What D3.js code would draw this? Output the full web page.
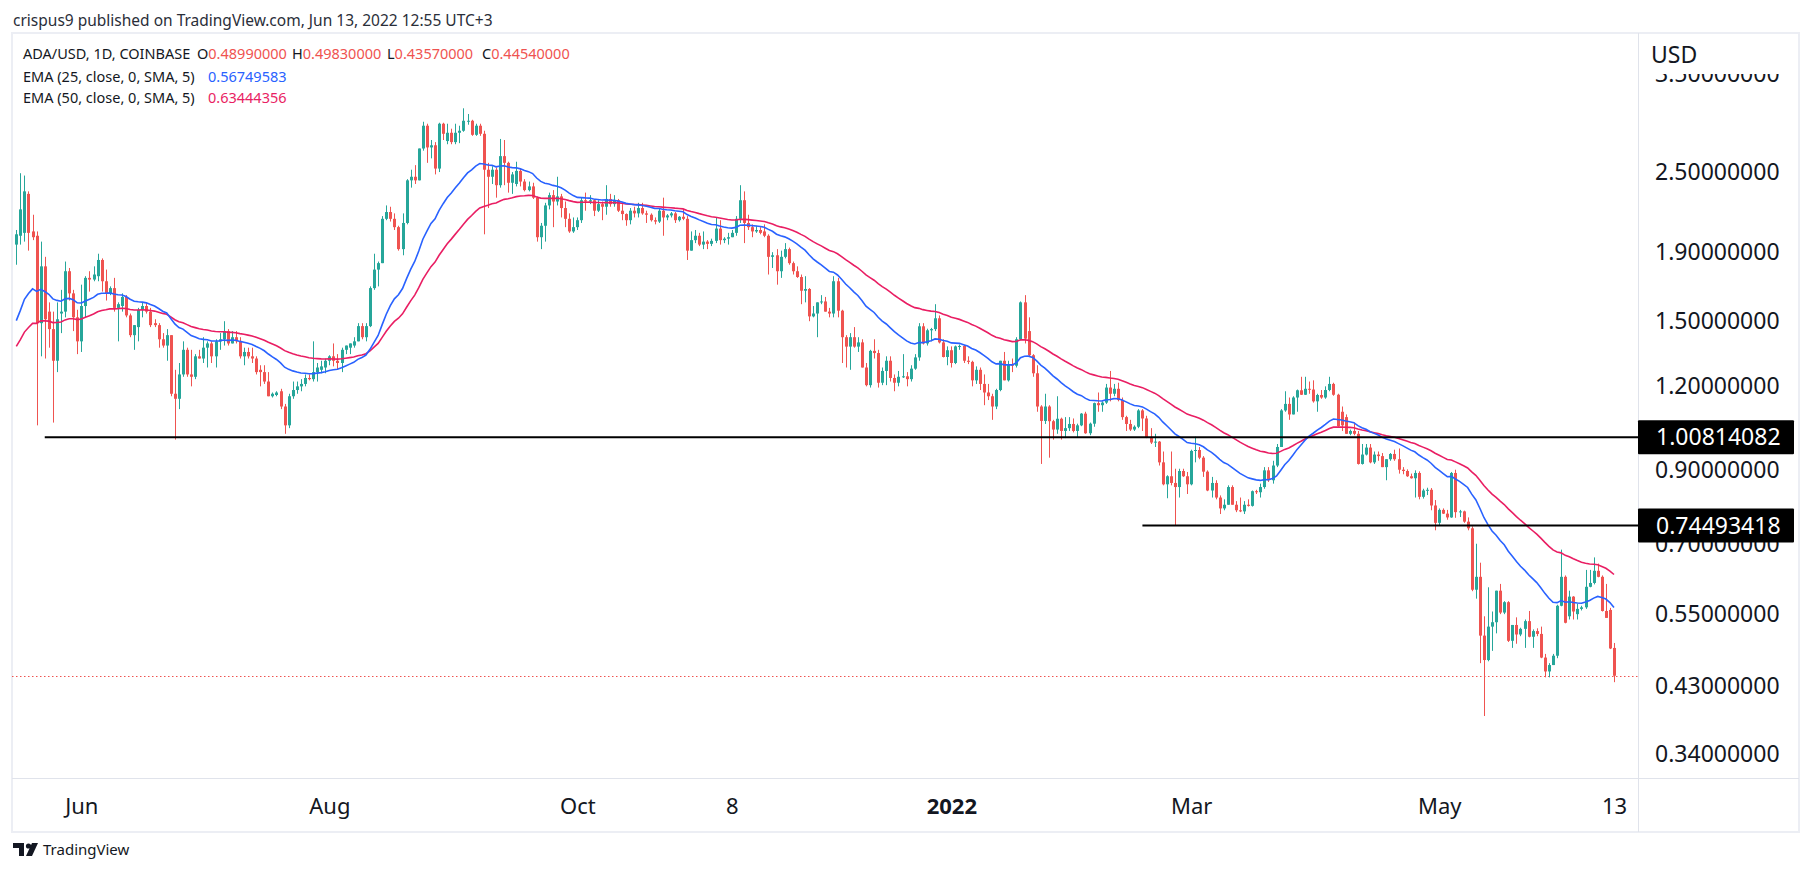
<!DOCTYPE html>
<html>
<head>
<meta charset="utf-8">
<script src="https://cdn.jsdelivr.net/npm/d3@7"></script>
<style>
  body { margin: 0; background: #fff; }
  svg { display: block; font-family: "Noto Sans", sans-serif; }
</style>
</head>
<body>
<script>
// ADA/USD daily candles, [open, high, low, close], starting 16 May 2021
const mayJul2021 = [
  [1.95,2.05,1.82,2.02],[2.01,2.49,1.95,2.20],[2.03,2.47,1.97,2.34],[2.32,2.34,1.91,2.03],[2.04,2.16,1.98,2.00],
  [2.01,2.04,1.05,1.49],[1.49,1.97,1.33,1.81],[1.81,1.87,1.32,1.51],[1.55,1.60,1.37,1.46],[1.46,1.55,1.06,1.31],
  [1.31,1.60,1.26,1.51],[1.54,1.67,1.44,1.55],[1.55,1.84,1.52,1.78],[1.78,1.80,1.61,1.65],[1.65,1.67,1.45,1.52],
  [1.52,1.56,1.34,1.40],[1.40,1.70,1.35,1.58],[1.58,1.75,1.52,1.74],[1.74,1.78,1.66,1.73],[1.73,1.81,1.72,1.76],
  [1.75,1.89,1.72,1.85],[1.85,1.86,1.66,1.72],[1.72,1.79,1.61,1.65],[1.65,1.69,1.64,1.68],[1.68,1.74,1.55,1.57],
  [1.57,1.60,1.40,1.59],[1.58,1.65,1.55,1.63],[1.63,1.64,1.52,1.53],[1.53,1.54,1.42,1.43],[1.43,1.48,1.36,1.48],
  [1.47,1.57,1.40,1.56],[1.56,1.60,1.52,1.58],[1.58,1.60,1.54,1.55],[1.55,1.57,1.47,1.48],[1.49,1.51,1.47,1.48],
  [1.48,1.49,1.37,1.41],[1.41,1.44,1.37,1.38],[1.38,1.46,1.31,1.43],[1.43,1.43,1.16,1.17],[1.17,1.27,1.00,1.15],
  [1.15,1.30,1.11,1.25],[1.25,1.40,1.24,1.36],[1.36,1.37,1.24,1.25],[1.25,1.36,1.20,1.24],[1.24,1.34,1.23,1.33],
  [1.33,1.36,1.32,1.32],[1.32,1.42,1.30,1.37],[1.37,1.40,1.28,1.39],[1.39,1.40,1.30,1.33],[1.33,1.41,1.28,1.40],
  [1.40,1.44,1.36,1.41],[1.41,1.50,1.38,1.45],[1.45,1.46,1.38,1.39],[1.39,1.45,1.39,1.42],[1.42,1.45,1.39,1.40],
  [1.40,1.42,1.32,1.33],[1.33,1.37,1.29,1.35],[1.35,1.37,1.32,1.33],[1.33,1.37,1.30,1.32],[1.32,1.33,1.25,1.26],
  [1.27,1.29,1.20,1.26],[1.26,1.29,1.21,1.22],[1.22,1.26,1.16,1.16],[1.16,1.175,1.155,1.17],[1.165,1.18,1.16,1.175],
  [1.18,1.19,1.11,1.12],[1.12,1.13,1.02,1.05],[1.05,1.17,1.04,1.16],[1.16,1.22,1.15,1.185],[1.185,1.22,1.17,1.20]
];
const julSep2021 = [
  [1.20,1.23,1.18,1.21],[1.21,1.25,1.20,1.235],[1.235,1.25,1.225,1.23],[1.23,1.40,1.22,1.26],[1.26,1.30,1.22,1.28],
  [1.27,1.31,1.255,1.285],[1.28,1.32,1.255,1.31],[1.31,1.335,1.29,1.33],[1.33,1.39,1.285,1.31],[1.31,1.34,1.27,1.30],
  [1.30,1.37,1.26,1.36],[1.36,1.38,1.34,1.38],[1.37,1.39,1.34,1.39],[1.38,1.42,1.37,1.40],[1.40,1.49,1.40,1.475],
  [1.475,1.49,1.41,1.42],[1.42,1.49,1.40,1.475],[1.475,1.69,1.47,1.68],[1.68,1.89,1.67,1.79],[1.79,1.84,1.69,1.83],
  [1.83,2.15,1.83,2.13],[2.13,2.23,2.12,2.18],[2.18,2.22,2.11,2.13],[2.13,2.17,2.05,2.07],[2.07,2.08,1.91,1.92],
  [1.92,2.17,1.88,2.10],[2.10,2.44,2.09,2.43],[2.43,2.52,2.37,2.46],[2.46,2.56,2.40,2.43],[2.43,2.71,2.43,2.71],
  [2.71,2.97,2.69,2.93],[2.93,2.95,2.58,2.72],[2.72,2.79,2.62,2.74],[2.74,2.77,2.48,2.53],[2.53,2.96,2.50,2.95],
  [2.95,2.96,2.79,2.85],[2.78,2.95,2.75,2.86],[2.86,2.90,2.75,2.77],[2.77,2.95,2.75,2.86],[2.86,2.93,2.76,2.88],
  [2.88,3.11,2.87,2.98],[2.97,3.05,2.94,2.98],[2.98,2.99,2.83,2.84],[2.84,2.95,2.83,2.93],[2.93,2.95,2.83,2.85],
  [2.85,2.88,2.02,2.52],[2.52,2.58,2.21,2.46],[2.46,2.55,2.40,2.52],[2.52,2.54,2.29,2.39],[2.39,2.80,2.37,2.64],
  [2.64,2.79,2.39,2.58],[2.58,2.59,2.33,2.41],[2.41,2.50,2.32,2.48],[2.40,2.59,2.38,2.51],[2.51,2.53,2.38,2.42],
  [2.42,2.44,2.34,2.35],[2.35,2.42,2.34,2.38],[2.38,2.41,2.28,2.29],[2.29,2.30,1.97,2.00],[2.00,2.10,1.92,2.08],
  [2.08,2.25,1.97,2.23],[2.23,2.33,2.20,2.31],[2.31,2.35,2.07,2.26],[2.26,2.46,2.23,2.30],[2.30,2.32,2.14,2.21],
  [2.21,2.26,2.07,2.13],[2.13,2.17,2.03,2.04]
];
const sepNov2021 = [
  [2.04,2.14,2.03,2.07],[2.07,2.14,2.05,2.12],[2.12,2.29,2.10,2.27],[2.27,2.33,2.19,2.26],[2.26,2.31,2.24,2.27],
  [2.27,2.28,2.15,2.19],[2.19,2.27,2.18,2.24],[2.24,2.26,2.12,2.22],[2.22,2.39,2.16,2.28],[2.28,2.32,2.22,2.24],
  [2.24,2.31,2.22,2.27],[2.27,2.28,2.18,2.19],[2.19,2.24,2.12,2.165],[2.165,2.17,2.08,2.12],[2.12,2.21,2.09,2.19],
  [2.19,2.22,2.14,2.17],[2.17,2.25,2.14,2.21],[2.21,2.25,2.16,2.17],[2.17,2.19,2.10,2.16],[2.16,2.17,2.11,2.12],
  [2.12,2.14,2.09,2.11],[2.11,2.21,2.10,2.19],[2.19,2.29,2.01,2.14],[2.14,2.165,2.12,2.155],[2.155,2.18,2.14,2.17],
  [2.17,2.18,2.10,2.12],[2.12,2.15,2.11,2.145],[2.145,2.20,2.12,2.13],[2.13,2.15,1.85,1.91],[1.91,2.04,1.91,1.98],
  [1.98,2.05,1.96,2.01],[2.01,2.03,1.94,1.95],[1.95,2.04,1.92,1.97],[1.97,1.98,1.92,1.955],[1.955,1.99,1.94,1.975],
  [1.975,2.14,1.96,2.06],[2.06,2.12,1.95,1.98],[1.98,2.00,1.96,1.99],[1.99,2.03,1.95,2.00],[2.00,2.05,2.00,2.03],
  [2.03,2.15,2.01,2.13],[2.13,2.39,2.10,2.27],[2.27,2.34,1.96,2.10],[2.10,2.16,2.05,2.07],[2.07,2.09,2.00,2.04],
  [2.04,2.08,2.03,2.05],[2.05,2.07,2.02,2.03],[2.04,2.09,2.00,2.01],[2.01,2.02,1.76,1.87],[1.87,1.90,1.80,1.88],
  [1.88,1.92,1.70,1.78],[1.78,1.91,1.74,1.87],[1.87,1.96,1.86,1.92],[1.92,1.93,1.82,1.83],[1.83,1.84,1.76,1.78],
  [1.78,1.81,1.74,1.745],[1.745,1.76,1.59,1.665],[1.665,1.75,1.60,1.675],[1.675,1.68,1.50,1.525],[1.525,1.58,1.52,1.54],
  [1.54,1.60,1.42,1.60],[1.60,1.64,1.59,1.605],[1.605,1.63,1.55,1.55],[1.55,1.57,1.52,1.54],[1.54,1.75,1.52,1.72],
  [1.72,1.74,1.52,1.555],[1.555,1.56,1.30,1.42],[1.42,1.43,1.28,1.375],[1.375,1.44,1.27,1.42]
];
const decFeb2022 = [
  [1.42,1.47,1.37,1.375],[1.375,1.42,1.35,1.395],[1.395,1.41,1.28,1.28],[1.28,1.30,1.20,1.205],[1.205,1.36,1.195,1.355],
  [1.355,1.41,1.32,1.345],[1.345,1.36,1.195,1.215],[1.215,1.28,1.205,1.265],[1.265,1.33,1.205,1.31],[1.31,1.33,1.22,1.235],
  [1.235,1.25,1.18,1.215],[1.215,1.265,1.20,1.24],[1.24,1.34,1.235,1.242],[1.242,1.26,1.20,1.23],[1.23,1.29,1.22,1.275],
  [1.275,1.34,1.27,1.325],[1.325,1.49,1.31,1.474],[1.474,1.49,1.385,1.39],[1.39,1.462,1.38,1.454],[1.454,1.466,1.40,1.46],
  [1.46,1.59,1.45,1.515],[1.515,1.53,1.39,1.395],[1.395,1.41,1.325,1.327],[1.327,1.376,1.29,1.358],[1.358,1.376,1.28,1.30],
  [1.30,1.38,1.295,1.376],[1.376,1.385,1.36,1.378],[1.378,1.383,1.30,1.31],[1.31,1.33,1.295,1.305],[1.305,1.31,1.20,1.225],
  [1.225,1.285,1.21,1.27],[1.27,1.28,1.185,1.21],[1.21,1.25,1.125,1.175],[1.175,1.21,1.145,1.16],[1.16,1.17,1.07,1.12],
  [1.12,1.19,1.11,1.185],[1.185,1.31,1.18,1.31],[1.31,1.35,1.225,1.225],[1.225,1.31,1.22,1.295],[1.295,1.32,1.26,1.288],
  [1.288,1.42,1.28,1.41],[1.41,1.605,1.405,1.60],[1.60,1.64,1.39,1.413],[1.45,1.52,1.33,1.335],[1.335,1.34,1.24,1.255],
  [1.255,1.29,1.10,1.12],[1.12,1.125,0.92,1.066],[1.066,1.17,1.055,1.12],[1.12,1.125,0.94,1.065],[1.065,1.07,1.0,1.035],
  [1.035,1.16,1.02,1.074],[1.074,1.078,1.0,1.03],[1.03,1.08,1.005,1.04],[1.04,1.08,1.03,1.055],[1.055,1.075,1.025,1.03],
  [1.03,1.056,1.008,1.05],[1.05,1.095,1.047,1.093],[1.093,1.10,1.02,1.022],[1.022,1.06,1.015,1.056],[1.056,1.135,1.045,1.133],
  [1.133,1.175,1.10,1.125],[1.125,1.14,1.10,1.135],[1.135,1.21,1.13,1.195],[1.195,1.265,1.14,1.17],[1.17,1.21,1.16,1.19],
  [1.19,1.215,1.14,1.145],[1.145,1.155,1.07,1.08],[1.08,1.085,1.03,1.055],[1.055,1.07,1.03,1.035]
];
const febApr2022 = [
  [1.035,1.05,1.03,1.045],[1.045,1.11,1.04,1.105],[1.105,1.11,1.03,1.075],[1.075,1.085,1.005,1.006],[1.006,1.04,0.985,0.99],
  [0.99,1.02,0.975,0.993],[0.993,0.995,0.915,0.925],[0.925,0.96,0.855,0.858],[0.858,0.885,0.818,0.882],[0.882,0.96,0.855,0.862],
  [0.862,0.905,0.745,0.85],[0.85,0.905,0.82,0.898],[0.898,0.905,0.88,0.882],[0.882,0.895,0.83,0.858],[0.858,0.966,0.855,0.962],
  [0.962,1.01,0.925,0.965],[0.965,0.975,0.935,0.94],[0.94,0.945,0.88,0.896],[0.896,0.90,0.838,0.84],[0.84,0.88,0.82,0.862],
  [0.862,0.87,0.815,0.82],[0.82,0.826,0.775,0.79],[0.79,0.815,0.785,0.80],[0.80,0.855,0.80,0.85],[0.85,0.855,0.80,0.80],
  [0.80,0.81,0.78,0.785],[0.785,0.82,0.78,0.782],[0.782,0.81,0.775,0.80],[0.80,0.815,0.795,0.797],[0.797,0.84,0.795,0.838],
  [0.838,0.842,0.83,0.835],[0.835,0.86,0.82,0.85],[0.85,0.91,0.845,0.90],[0.90,0.91,0.865,0.87],[0.87,0.93,0.86,0.915],
  [0.915,0.985,0.91,0.975],[0.975,1.11,0.975,1.105],[1.105,1.18,1.10,1.13],[1.13,1.155,1.07,1.09],[1.09,1.16,1.09,1.155],
  [1.155,1.187,1.10,1.184],[1.184,1.24,1.165,1.166],[1.166,1.24,1.165,1.19],[1.19,1.22,1.17,1.187],[1.187,1.225,1.135,1.14],
  [1.14,1.17,1.10,1.165],[1.165,1.185,1.15,1.155],[1.155,1.20,1.15,1.185],[1.185,1.24,1.18,1.21],[1.21,1.215,1.162,1.166],
  [1.166,1.17,1.045,1.047],[1.10,1.12,1.03,1.05],[1.08,1.09,1.02,1.02],[1.02,1.035,1.015,1.03],[1.03,1.06,1.015,1.02],
  [1.02,1.03,0.918,0.92],[0.92,0.985,0.918,0.95],[0.95,0.985,0.947,0.973],[0.973,0.985,0.922,0.925],[0.925,0.96,0.92,0.95],
  [0.95,0.96,0.93,0.945]
];
const aprJun2022 = [
  [0.945,0.955,0.91,0.91],[0.91,0.935,0.87,0.935],[0.935,0.955,0.93,0.952],[0.952,0.966,0.93,0.935],[0.935,0.97,0.89,0.902],
  [0.902,0.91,0.888,0.898],[0.898,0.903,0.88,0.882],[0.882,0.89,0.875,0.876],[0.876,0.90,0.82,0.892],[0.892,0.897,0.815,0.822],
  [0.822,0.845,0.817,0.84],[0.84,0.848,0.827,0.842],[0.842,0.847,0.785,0.798],[0.798,0.813,0.733,0.752],[0.752,0.79,0.745,0.786],
  [0.786,0.79,0.775,0.776],[0.776,0.786,0.76,0.766],[0.766,0.895,0.765,0.892],[0.892,0.902,0.765,0.78],[0.78,0.786,0.767,0.782],
  [0.782,0.784,0.752,0.755],[0.755,0.766,0.733,0.738],[0.738,0.743,0.595,0.598],[0.598,0.70,0.58,0.625],[0.625,0.656,0.465,0.511],
  [0.511,0.546,0.388,0.47],[0.47,0.603,0.468,0.527],[0.527,0.555,0.485,0.535],[0.535,0.596,0.515,0.596],[0.596,0.61,0.55,0.553],
  [0.553,0.575,0.55,0.573],[0.573,0.575,0.5,0.502],[0.502,0.53,0.49,0.53],[0.53,0.544,0.497,0.513],[0.513,0.525,0.51,0.523],
  [0.523,0.54,0.49,0.537],[0.537,0.556,0.508,0.509],[0.509,0.522,0.49,0.519],[0.519,0.524,0.51,0.514],[0.514,0.527,0.473,0.474],
  [0.474,0.48,0.443,0.452],[0.452,0.465,0.443,0.462],[0.462,0.48,0.462,0.477],[0.477,0.568,0.473,0.566],[0.566,0.686,0.565,0.625],
  [0.625,0.628,0.533,0.534],[0.546,0.596,0.54,0.584],[0.584,0.585,0.54,0.555],[0.55,0.57,0.54,0.56],[0.56,0.566,0.557,0.563],
  [0.563,0.64,0.56,0.604],[0.604,0.64,0.603,0.612],[0.612,0.668,0.609,0.638],[0.638,0.654,0.624,0.625],[0.625,0.628,0.555,0.556],
  [0.556,0.61,0.543,0.543],[0.558,0.562,0.488,0.489],[0.4899,0.4983,0.4357,0.4454]
];

const priceTicks = [3.5, 2.5, 1.9, 1.5, 1.2, 0.9, 0.7, 0.55, 0.43, 0.34];
const timeTicks = ["2021-06-01", "2021-08-01", "2021-10-01", "2021-11-08", "2022-01-01", "2022-03-01", "2022-05-01", "2022-06-13"];
const timeLabels = ["Jun", "Aug", "Oct", "8", "2022", "Mar", "May", "13"];
// horizontal levels drawn on the chart: price and the day they start
const levelPrices = [1.00814082, 0.74493418];
const levelStarts = ["2021-05-23", "2022-02-17"];
// EMA values at the left edge of the chart (start of the recursion)
const emaSeeds = { 25: 1.46, 50: 1.35 };
const legendValues = { o: "0.48990000", h: "0.49830000", l: "0.43570000", c: "0.44540000", ema25: "0.56749583", ema50: "0.63444356" };

const W = 1813, H = 876;
const pane = { left: 12, top: 33, right: 1638, bottom: 778 };
const green = "#26a69a", red = "#ef5350", blue = "#2962ff", pink = "#e91e63", ink = "#131722";

const parse = d3.utcParse("%Y-%m-%d");
const firstDay = parse("2021-05-16");
const candles = [].concat(mayJul2021, julSep2021, sepNov2021, decFeb2022, febApr2022, aprJun2022)
  .map((d, i) => ({ date: d3.utcDay.offset(firstDay, i), o: d[0], h: d[1], l: d[2], c: d[3] }));

function ema(values, len, seed) {
  const k = 2 / (len + 1);
  let e = seed;
  return values.map(v => (e = e + k * (v - e)));
}
const closes = candles.map(d => d.c);
const ema25 = ema(closes, 25, emaSeeds[25]).map((v, i) => ({ date: candles[i].date, v }));
const ema50 = ema(closes, 50, emaSeeds[50]).map((v, i) => ({ date: candles[i].date, v }));

const x = d3.scaleUtc()
  .domain([candles[0].date, candles[candles.length - 1].date])
  .range([16.3, 1614]);
const y = d3.scaleLog().domain([0.3138, 4.025]).range([pane.bottom, pane.top]);

const svg = d3.select("body").append("svg").attr("width", W).attr("height", H);
svg.append("rect").attr("width", W).attr("height", H).attr("fill", "#fff");

svg.append("defs").append("clipPath").attr("id", "pane")
  .append("rect").attr("x", pane.left).attr("y", pane.top)
  .attr("width", pane.right - pane.left).attr("height", pane.bottom - pane.top);

// header
svg.append("text").attr("x", 13).attr("y", 26).attr("font-size", 15.5).attr("fill", "#2a2e39")
  .text("crispus9 published on TradingView.com, Jun 13, 2022 12:55 UTC+3");

// frame
svg.append("rect").attr("x", 12).attr("y", 33).attr("width", 1787).attr("height", 799)
  .attr("fill", "none").attr("stroke", "#eceef4").attr("stroke-width", 2);
svg.append("line").attr("x1", pane.right + 0.5).attr("x2", pane.right + 0.5).attr("y1", 33).attr("y2", 832)
  .attr("stroke", "#e0e3eb");
svg.append("line").attr("x1", 12).attr("x2", 1799).attr("y1", pane.bottom + 0.5).attr("y2", pane.bottom + 0.5)
  .attr("stroke", "#e0e3eb");

const plot = svg.append("g").attr("clip-path", "url(#pane)");

// last price dotted line
const lastClose = candles[candles.length - 1].c;
plot.append("line").attr("x1", pane.left).attr("x2", pane.right)
  .attr("y1", Math.round(y(lastClose)) + 0.5).attr("y2", Math.round(y(lastClose)) + 0.5)
  .attr("stroke", red).attr("stroke-dasharray", "1.5,2.5");

// candles
const cx = d => Math.round(x(d.date));
plot.append("g").selectAll("line").data(candles).join("line")
  .attr("x1", d => cx(d) + 0.5).attr("x2", d => cx(d) + 0.5)
  .attr("y1", d => y(d.h)).attr("y2", d => y(d.l))
  .attr("stroke", d => (d.c >= d.o ? green : red)).attr("stroke-width", 1);
plot.append("g").selectAll("rect").data(candles).join("rect")
  .attr("x", d => cx(d) - 1).attr("width", 3)
  .attr("y", d => y(Math.max(d.o, d.c)))
  .attr("height", d => Math.max(1, Math.abs(y(d.o) - y(d.c))))
  .attr("fill", d => (d.c >= d.o ? green : red));

// EMAs
const line = d3.line().x(d => x(d.date)).y(d => y(d.v));
plot.append("path").datum(ema50).attr("d", line).attr("fill", "none").attr("stroke", pink).attr("stroke-width", 1.6);
plot.append("path").datum(ema25).attr("d", line).attr("fill", "none").attr("stroke", blue).attr("stroke-width", 1.6);

// horizontal levels
levelPrices.forEach((p, i) => {
  plot.append("line").attr("x1", x(parse(levelStarts[i]))).attr("x2", pane.right)
    .attr("y1", y(p)).attr("y2", y(p)).attr("stroke", "#000").attr("stroke-width", 2);
});

// price axis
const yAxis = svg.append("g").attr("transform", `translate(${pane.right},0)`)
  .call(d3.axisRight(y).tickValues(priceTicks).tickFormat(d3.format(".8f")).tickSize(0).tickPadding(17));
yAxis.select(".domain").remove();
yAxis.selectAll("text").attr("font-size", 23).attr("fill", ink).attr("font-family", "Noto Sans, sans-serif");

// USD header box hides the top label partly
svg.append("rect").attr("x", pane.right + 1).attr("y", 34).attr("width", 159).attr("height", 40).attr("fill", "#fff");
svg.append("text").attr("x", 1651).attr("y", 63).attr("font-size", 23).attr("fill", ink).text("USD");

// level badges
levelPrices.forEach(p => {
  const g = svg.append("g").attr("transform", `translate(${pane.right},${y(p)})`);
  g.append("rect").attr("x", 0).attr("y", -17).attr("width", 156).attr("height", 34).attr("rx", 1).attr("fill", "#000");
  g.append("text").attr("x", 18).attr("dy", "0.35em").attr("font-size", 23).attr("fill", "#fff")
    .text(d3.format(".8f")(p));
});

// time axis
const xAxis = svg.append("g").attr("transform", `translate(0,${pane.bottom})`)
  .call(d3.axisBottom(x).tickValues(timeTicks.map(parse)).tickSize(0).tickPadding(20)
    .tickFormat((d, i) => timeLabels[i]));
xAxis.select(".domain").remove();
xAxis.selectAll("text").attr("font-size", 22).attr("fill", ink).attr("font-family", "Noto Sans, sans-serif")
  .attr("font-weight", (d, i) => (timeLabels[i] === "2022" ? "bold" : "normal"));

// legend
const legend = svg.append("g").attr("font-size", 14.5).attr("fill", ink);
legend.append("text").attr("x", 23).attr("y", 59).text("ADA/USD, 1D, COINBASE");
[["O", legendValues.o, 197], ["H", legendValues.h, 292], ["L", legendValues.l, 387], ["C", legendValues.c, 482]]
  .forEach(([k, v, px]) => {
    const t = legend.append("text").attr("x", px).attr("y", 59);
    t.append("tspan").text(k);
    t.append("tspan").attr("fill", red).text(v);
  });
legend.append("text").attr("x", 23).attr("y", 82).text("EMA (25, close, 0, SMA, 5)");
legend.append("text").attr("x", 208).attr("y", 82).attr("fill", blue).text(legendValues.ema25);
legend.append("text").attr("x", 23).attr("y", 103).text("EMA (50, close, 0, SMA, 5)");
legend.append("text").attr("x", 208).attr("y", 103).attr("fill", pink).text(legendValues.ema50);

// TradingView footer logo
const logo = svg.append("g").attr("fill", ink);
logo.append("path").attr("d", "M13 843 h11 v13 h-5 v-8 h-6 z");
logo.append("circle").attr("cx", 28.5).attr("cy", 846).attr("r", 2.6);
logo.append("path").attr("d", "M32 843 h6 l-6 13 h-6 z");
svg.append("text").attr("x", 43).attr("y", 855).attr("font-size", 15).attr("fill", ink).text("TradingView");
</script>
</body>
</html>
